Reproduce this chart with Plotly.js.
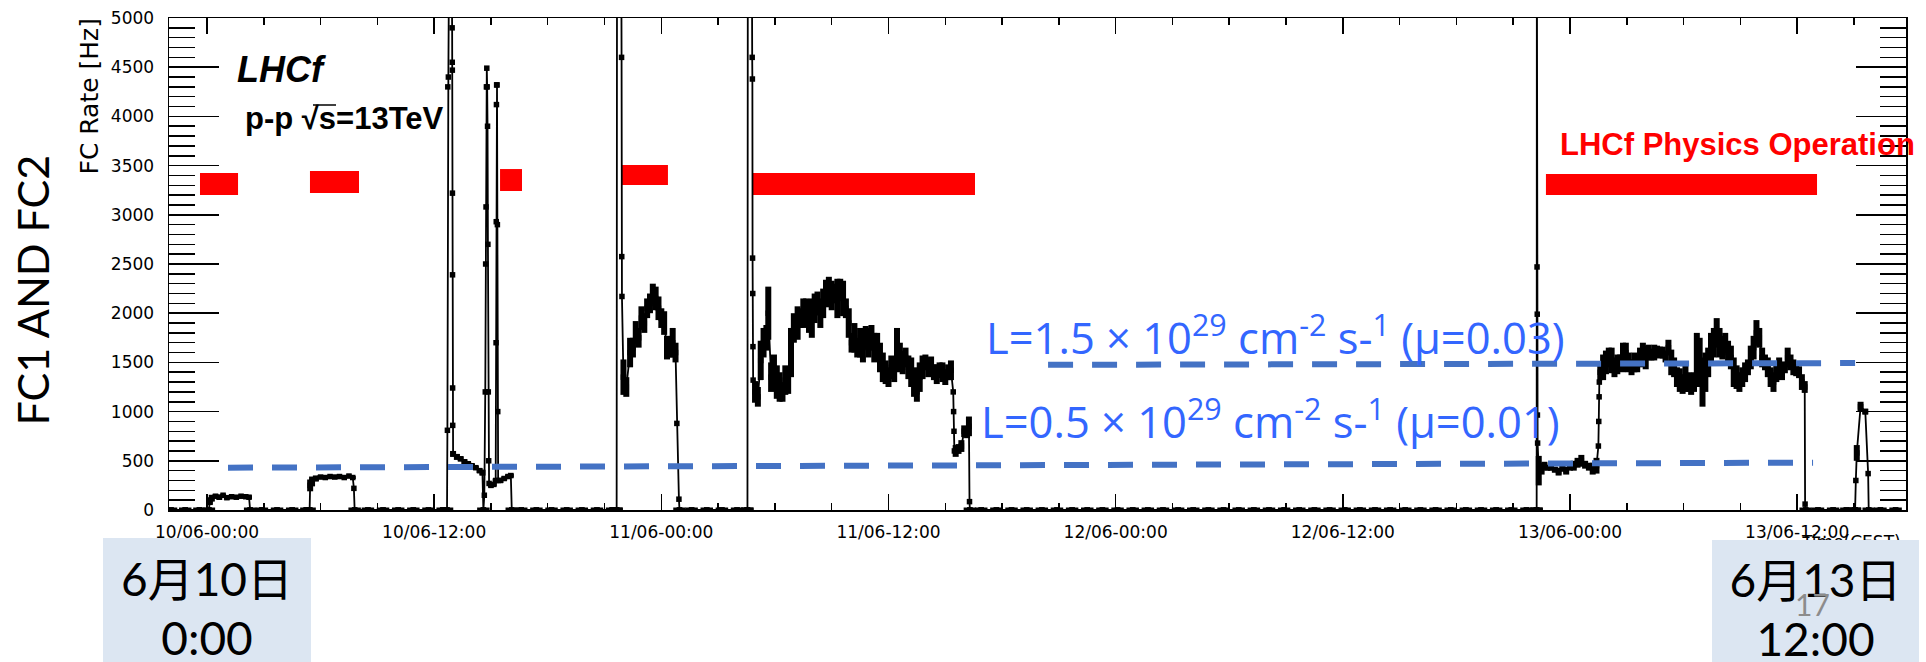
<!DOCTYPE html>
<html><head><meta charset="utf-8">
<script src="https://cdn.plot.ly/plotly-3.0.1.min.js"></script>
<style>html,body{margin:0;padding:0;background:#fff;overflow:hidden}#chart{width:1926px;height:662px}</style>
</head><body><div id="chart"></div>
<script>
// ---- data: hours since 10/06 00:00 (CEST), FC rate [Hz], rate error [Hz]
const tHours = [
 -1.9,-1.15,-0.4,0.1,
 0.15,0.25,0.45,0.65,0.85,1.05,1.3,1.55,1.8,2.05,2.22,2.28,
 2.9,3.7,4.5,5.25,5.42,
 5.45,5.55,5.75,6.0,6.25,6.5,6.75,7.0,7.25,7.5,7.7,7.76,7.8,
 8.5,9.3,10.1,10.9,11.7,12.45,12.68,
 12.70,12.72,12.75,12.80,12.90,12.95,12.955,12.96,12.965,12.97,12.975,12.98,13.0,13.2,13.4,13.6,13.8,14.0,14.2,14.4,14.55,14.6,
 14.65,14.7,14.72,14.74,14.76,14.78,14.80,14.82,14.84,14.86,14.88,14.90,15.0,15.15,15.25,
 15.27,15.28,15.29,15.30,15.32,15.34,15.36,15.38,15.5,15.7,15.9,16.05,16.1,
 16.6,17.4,18.2,19.0,19.8,20.6,21.4,21.62,
 21.64,21.66,21.88,21.9,21.91,21.92,22.0,22.15,22.35,22.5,22.65,22.8,22.95,23.1,23.25,23.4,23.55,23.7,23.85,24.0,24.15,24.3,24.45,24.6,24.75,24.82,24.93,24.96,
 25.6,26.4,27.2,28.0,28.53,
 28.55,28.57,28.78,28.80,28.81,28.82,28.83,28.84,28.85,28.95,29.1,29.25,29.4,29.55,29.65,29.8,29.95,30.1,30.25,30.4,30.55,30.7,30.85,
 31.0,31.2,31.35,31.5,31.65,31.8,31.95,32.1,32.25,32.4,32.55,32.7,32.85,33.0,33.15,33.3,33.45,33.6,33.75,33.9,34.05,34.2,34.35,
 34.5,34.65,34.8,34.95,35.1,35.25,35.4,35.55,35.7,35.85,36.0,36.15,36.3,36.45,36.6,36.75,36.9,37.05,37.2,37.35,37.5,37.65,
 37.8,37.95,38.1,38.25,38.4,38.55,38.7,38.85,39.0,39.15,39.3,39.42,39.44,39.46,39.48,39.55,39.7,39.85,40.0,40.15,40.25,40.28,40.3,
 40.9,41.7,42.5,43.3,44.1,44.9,45.7,46.5,47.3,48.1,48.9,49.7,50.5,51.3,52.1,52.9,53.7,54.5,55.3,56.1,56.9,57.7,58.5,59.3,
 60.1,60.9,61.7,62.5,63.3,64.1,64.9,65.7,66.5,67.3,68.1,68.9,69.7,70.22,
 70.24,70.25,70.26,70.27,70.28,70.29,70.35,70.5,70.65,70.8,71.0,71.2,71.4,71.6,71.8,72.0,72.2,72.4,72.6,72.8,73.0,73.2,73.4,
 73.5,73.52,73.54,73.55,73.6,73.75,73.9,74.05,74.2,74.35,74.5,74.65,74.8,74.95,75.1,75.25,75.4,75.55,75.7,75.85,76.0,76.15,
 76.3,76.45,76.6,76.75,76.9,77.05,77.2,77.35,77.5,77.65,77.8,77.95,78.1,78.25,78.4,78.55,78.7,78.85,79.0,79.15,79.3,79.45,
 79.6,79.75,79.9,80.05,80.2,80.35,80.5,80.65,80.8,80.95,81.1,81.25,81.4,81.55,81.7,81.85,82.0,82.15,82.3,82.45,82.6,82.75,
 82.9,83.05,83.2,83.35,83.5,83.65,83.8,83.95,84.1,84.25,84.4,84.42,84.45,
 85.1,85.9,86.6,87.04,
 87.06,87.1,87.15,87.35,87.6,87.75,87.78,
 88.4,89.2
];
const rate = [
 0,0,0,0,
 90,120,140,130,150,125,135,130,140,135,130,0,
 0,0,0,0,0,
 250,290,320,335,330,340,335,340,330,345,330,220,0,
 0,0,0,0,0,0,0,
 810,4300,4400,6000,6000,4900,4550,4470,3220,2390,1240,860,570,540,520,490,470,450,430,400,380,0,
 150,1200,2500,3080,4300,4490,4300,3900,2700,1200,500,270,250,260,300,
 1700,2930,4120,4320,4320,2900,1000,300,300,320,340,350,0,
 0,0,0,0,0,0,0,0,
 0,6000,6000,4600,2575,2170,1350,1250,1600,1650,1800,1750,1950,1900,2050,2100,2200,2150,2050,1950,1900,1650,1650,1700,1600,880,110,0,
 0,0,0,0,0,
 0,6000,6000,4600,4380,2560,2200,1660,1320,1200,1150,1520,1700,1750,2000,1350,1400,1300,1250,1200,1320,1300,1600,
 1850,1900,1950,2000,2050,1950,1950,2050,2100,2000,2100,2200,2250,2180,2200,2150,2250,2150,2050,1900,1700,1750,1650,
 1700,1650,1750,1700,1750,1650,1700,1550,1450,1400,1350,1450,1400,1650,1550,1500,1550,1450,1400,1300,1200,1350,
 1450,1500,1450,1480,1400,1380,1420,1400,1350,1400,1420,1200,1000,800,600,600,620,650,800,780,850,85,0,
 0,0,0,0,0,0,0,0,0,0,0,0,0,0,0,0,0,0,0,0,0,0,0,0,
 0,0,0,0,0,0,0,0,0,0,0,0,0,0,
 0,6000,2470,1990,965,680,400,420,450,430,430,410,390,420,400,440,450,480,500,460,440,420,450,
 650,900,1150,1300,1400,1450,1500,1550,1520,1450,1480,1500,1550,1600,1500,1450,1500,1480,1550,1600,1550,1600,
 1580,1600,1620,1600,1600,1560,1650,1500,1450,1350,1320,1280,1350,1300,1250,1300,1550,1500,1300,1400,1500,1650,
 1700,1800,1700,1650,1700,1600,1550,1400,1350,1300,1350,1400,1450,1550,1650,1800,1750,1550,1500,1450,1350,1300,
 1400,1450,1400,1450,1550,1500,1450,1420,1400,1300,1250,60,0,
 0,0,0,0,
 0,300,580,1050,1000,370,0,
 0,0
];
const rateErr = [
 0,0,0,0,
 40,35,20,25,15,20,15,15,15,15,20,0,
 0,0,0,0,0,
 60,50,30,20,15,15,15,15,15,15,15,0,0,
 0,0,0,0,0,0,0,
 0,0,0,0,0,0,0,0,0,0,0,0,30,30,25,25,20,20,20,25,30,0,
 0,0,0,0,0,0,0,0,0,0,0,0,20,20,20,
 0,0,0,0,0,0,0,0,25,20,20,20,0,
 0,0,0,0,0,0,0,0,
 0,0,0,0,0,0,180,100,150,100,120,100,120,100,100,100,100,120,120,100,120,120,100,150,100,0,0,0,
 0,0,0,0,0,
 0,0,0,0,0,0,0,0,0,110,100,200,150,130,270,150,180,170,150,100,150,120,250,
 150,170,100,150,100,150,200,150,120,150,150,140,120,150,100,200,100,180,100,150,100,150,100,
 150,150,120,150,130,150,100,150,150,120,100,120,100,200,150,120,100,120,150,150,100,150,
 120,80,100,80,80,100,80,100,80,80,100,0,0,0,0,60,50,60,60,50,100,0,0,
 0,0,0,0,0,0,0,0,0,0,0,0,0,0,0,0,0,0,0,0,0,0,0,0,
 0,0,0,0,0,0,0,0,0,0,0,0,0,0,
 0,0,0,0,0,0,150,60,40,30,30,30,40,30,40,40,50,50,60,40,40,60,80,
 0,0,0,0,80,130,120,100,130,100,100,80,150,100,100,80,100,80,100,100,120,80,
 60,80,50,60,60,60,80,130,100,100,120,100,150,100,80,100,250,250,250,200,150,150,
 150,150,150,120,100,120,120,150,120,100,100,100,80,120,120,130,100,100,80,100,100,100,
 100,100,80,60,100,80,80,60,60,80,60,0,0,
 0,0,0,0,
 0,0,80,50,30,0,0,
 0,0
];
// LHCf physics operation periods (hours) and bar extent [Hz]
const opStart = [-0.37, 5.44, 15.48, 21.87, 28.79, 70.73];
const opEnd   = [1.64, 8.03, 16.64, 24.35, 40.57, 85.05];
const opLow   = [3201, 3221, 3242, 3303, 3201, 3201];
const opHigh  = [3425, 3445, 3465, 3506, 3425, 3415];
// luminosity reference levels (dashed)
const lumLowT = [1.11, 84.84];
const lumLowY = [430, 481];
const lumHighT = [44.43, 87.06];
const lumHighY = [1475, 1493];
// axis ticks
const tickHours = [0, 12, 24, 36, 48, 60, 72, 84];
const tickLabels = ["10/06-00:00","10/06-12:00","11/06-00:00","11/06-12:00","12/06-00:00","12/06-12:00","13/06-00:00","13/06-12:00"];

const zeroT = tHours.filter((t, i) => rate[i] === 0);
const zeroY = zeroT.map(() => 0);

const PL = 169, PR = 1906, PT = 18, PB = 510;
const fx = x => (x - PL) / (PR - PL);
const fy = y => (PB - y) / (PB - PT);

const traces = [
  {x: tHours, y: rate, type: 'scatter', mode: 'lines+markers',
   line: {color: '#000', width: 1.8},
   marker: {symbol: 'square', size: 5.5, color: '#000'},
   error_y: {type: 'data', array: rateErr, visible: true, thickness: 6, width: 0, color: '#000'},
   error_x: {type: 'constant', value: 0.09, visible: true, thickness: 4, width: 0, color: '#000'},
   hoverinfo: 'skip'},
  {x: zeroT, y: zeroY, type: 'scatter', mode: 'markers',
   marker: {symbol: 'square', size: 5.5, color: '#000'},
   error_x: {type: 'constant', value: 0.33, visible: true, thickness: 5, width: 0, color: '#000'},
   hoverinfo: 'skip'},
  {x: lumLowT, y: lumLowY, type: 'scatter', mode: 'lines',
   line: {color: '#4472C4', width: 6, dash: '25px,19px'}, hoverinfo: 'skip'},
  {x: lumHighT, y: lumHighY, type: 'scatter', mode: 'lines',
   line: {color: '#4472C4', width: 6, dash: '25px,19px'}, hoverinfo: 'skip'}
];

const shapes = opStart.map((s, i) => ({
  type: 'rect', xref: 'x', yref: 'y', x0: s, x1: opEnd[i], y0: opLow[i], y1: opHigh[i],
  fillcolor: '#FF0000', line: {width: 0}, layer: 'below'
}));
// overline of the square root sign in "√s"
shapes.push({type: 'line', xref: 'paper', yref: 'paper', x0: fx(313), x1: fx(336), y0: fy(105), y1: fy(105),
             line: {color: '#000', width: 1.5}, layer: 'above'});

const tickFont = {family: 'DejaVu Sans', size: 17, color: '#000'};
const blueFont = {family: 'Open Sans, Lato, Noto Sans', size: 43.5, color: '#3366FF'};
const boxFont = {family: 'Lato, Noto Sans CJK JP', size: 46, color: '#000'};

const ann = (o) => Object.assign({xref: 'paper', yref: 'paper', showarrow: false}, o);
const annotations = [
  ann({x: fx(235), y: fy(69.5), xanchor: 'left', yanchor: 'middle', text: '<b><i>LHCf</i></b>',
       font: {family: 'Liberation Sans', size: 36, color: '#000'}}),
  ann({x: fx(243), y: fy(118.5), xanchor: 'left', yanchor: 'middle', text: '<b>p-p \u221As=13TeV</b>',
       font: {family: 'Liberation Sans', size: 31, color: '#000'}}),
  ann({x: fx(1558), y: fy(144), xanchor: 'left', yanchor: 'middle', text: '<b>LHCf Physics Operation</b>',
       font: {family: 'Liberation Sans', size: 31, color: '#FF0000'}}),
  ann({x: fx(984), y: fy(335), xanchor: 'left', yanchor: 'middle',
       text: 'L=1.5 \u00D7 10<sup>29</sup> cm<sup>-2</sup> s-<sup>1</sup> (\u03BC=0.03)', font: blueFont}),
  ann({x: fx(979), y: fy(419), xanchor: 'left', yanchor: 'middle',
       text: 'L=0.5 \u00D7 10<sup>29</sup> cm<sup>-2</sup> s-<sup>1</sup> (\u03BC=0.01)', font: blueFont}),
  ann({x: fx(31.5), y: fy(290), xanchor: 'center', yanchor: 'middle', textangle: -90,
       text: 'FC1 AND FC2', font: {family: 'Lato, Noto Sans', size: 43, color: '#000'}}),
  ann({x: fx(89), y: fy(96.5), xanchor: 'center', yanchor: 'middle', textangle: -90,
       text: 'FC Rate [Hz]', font: {family: 'DejaVu Sans', size: 25, color: '#000'}}),
  ann({x: fx(1903), y: fy(530), xanchor: 'right', yanchor: 'top', text: 'Time(CEST)', font: tickFont}),
  ann({x: fx(103), y: fy(538), xanchor: 'left', yanchor: 'top', width: 208, height: 140,
       bgcolor: '#DCE6F2', borderpad: 0, borderwidth: 0, align: 'center', valign: 'middle',
       text: '6月10日<br>0:00', font: boxFont}),
  ann({x: fx(1712), y: fy(540), xanchor: 'left', yanchor: 'top', width: 207, height: 138,
       bgcolor: '#DCE6F2', borderpad: 0, borderwidth: 0, align: 'center', valign: 'middle',
       text: '6月13日<br>12:00', font: boxFont}),
  ann({x: fx(1812), y: fy(604), xanchor: 'center', yanchor: 'middle', text: '17',
       font: {family: 'Lato, Noto Sans', size: 30, color: '#8C8C8C'}})
];

const layout = {
  width: 1926, height: 662, autosize: false,
  margin: {l: PL, r: 1926 - PR, t: PT, b: 662 - PB, pad: 0},
  paper_bgcolor: '#fff', plot_bgcolor: '#fff', showlegend: false,
  font: {family: 'DejaVu Sans', color: '#000'},
  xaxis: {range: [-2.007, 89.75], tickmode: 'array', tickvals: tickHours, ticktext: tickLabels,
          ticks: 'inside', ticklen: 16, tickwidth: 1.5, tickcolor: '#000',
          showline: true, linecolor: '#000', linewidth: 1.5, mirror: 'ticks',
          showgrid: false, zeroline: false, tickfont: tickFont, ticklabelstandoff: 6,
          minor: {tickmode: 'linear', tick0: 0, dtick: 3, ticks: 'inside', ticklen: 7, tickwidth: 1.5, tickcolor: '#000', showgrid: false}},
  yaxis: {range: [0, 5000], tickmode: 'linear', tick0: 0, dtick: 500,
          ticks: 'inside', ticklen: 50, tickwidth: 1.5, tickcolor: '#000',
          showline: true, linecolor: '#000', linewidth: 1.5, mirror: 'ticks',
          showgrid: false, zeroline: false, tickfont: tickFont, ticklabelstandoff: 10,
          minor: {tickmode: 'linear', tick0: 0, dtick: 100, ticks: 'inside', ticklen: 26, tickwidth: 1.5, tickcolor: '#000', showgrid: false}},
  shapes: shapes,
  annotations: annotations
};

Plotly.newPlot('chart', traces, layout, {staticPlot: true, displayModeBar: false});
</script></body></html>
